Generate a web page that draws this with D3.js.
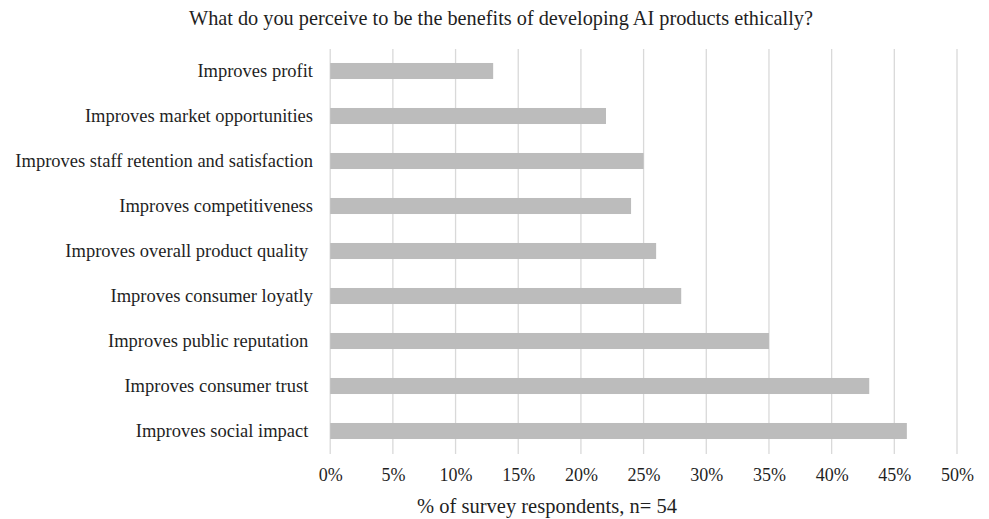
<!DOCTYPE html>
<html>
<head>
<meta charset="utf-8">
<script src="https://cdn.jsdelivr.net/npm/d3@7"></script>
<style>
  html, body { margin: 0; padding: 0; background: #fff; }
  text { font-family: "Liberation Serif", "Times New Roman", serif; fill: #1f1f1f; white-space: pre; }
</style>
</head>
<body>
<svg id="chart" width="989" height="519"></svg>
<script>
const categories = [
  "Improves profit",
  "Improves market opportunities",
  "Improves staff retention and satisfaction",
  "Improves competitiveness",
  "Improves overall product quality ",
  "Improves consumer loyatly",
  "Improves public reputation ",
  "Improves consumer trust ",
  "Improves social impact "
];
const values = [0.13, 0.22, 0.25, 0.24, 0.26, 0.28, 0.35, 0.43, 0.46];
const tickValues = [0, 0.05, 0.10, 0.15, 0.20, 0.25, 0.30, 0.35, 0.40, 0.45, 0.50];
const titleText = "What do you perceive to be the benefits of developing AI products ethically?";
const xTitleText = "% of survey respondents, n= 54";

const svg = d3.select("#chart");

const x = d3.scaleLinear().domain([0, 0.5]).range([330.2, 957]);
const y = d3.scaleBand().domain(categories).range([48.5, 453.5])
  .paddingInner(0.644).paddingOuter(0.322);

// gridlines
svg.append("g").selectAll("line").data(tickValues).join("line")
  .attr("x1", d => x(d)).attr("x2", d => x(d))
  .attr("y1", 49).attr("y2", 454)
  .attr("stroke", "#d9d9d9").attr("stroke-width", 1.3);

// bars
svg.append("g").selectAll("rect").data(values).join("rect")
  .attr("x", x(0))
  .attr("y", (d, i) => y(categories[i]))
  .attr("width", d => x(d) - x(0))
  .attr("height", y.bandwidth())
  .attr("fill", "#bcbcbc");

// category labels
svg.append("g").selectAll("text").data(categories).join("text")
  .attr("x", 313)
  .attr("y", d => y(d) + y.bandwidth() / 2)
  .attr("dy", "0.35em")
  .attr("text-anchor", "end")
  .style("font-size", "18.5px")
  .text(d => d);

// x axis tick labels
const xAxis = d3.axisBottom(x).tickValues(tickValues).tickFormat(d3.format(".0%")).tickSize(0).tickPadding(0);
const gx = svg.append("g").attr("transform", "translate(0,481)").call(xAxis);
gx.select(".domain").remove();
gx.selectAll("text")
  .attr("dy", 0)
  .attr("y", 0)
  .style("font-size", "18px")
  .style("font-family", "'Liberation Serif', serif")
  .attr("fill", "#1f1f1f");

// title
svg.append("text").attr("x", 501).attr("y", 25).attr("text-anchor", "middle")
  .style("font-size", "20.3px").text(titleText);

// x axis title
svg.append("text").attr("x", 547).attr("y", 513).attr("text-anchor", "middle")
  .style("font-size", "20.5px").text(xTitleText);
</script>
</body>
</html>
